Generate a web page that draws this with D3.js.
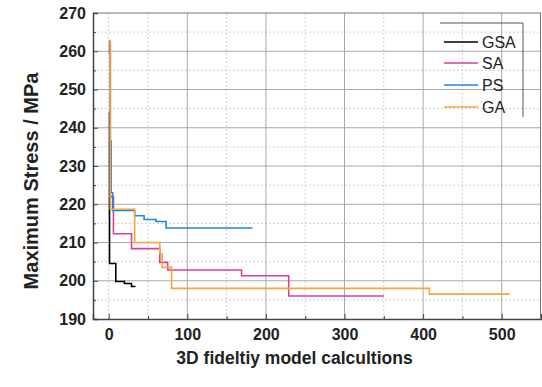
<!DOCTYPE html>
<html>
<head>
<meta charset="utf-8">
<script src="https://cdn.jsdelivr.net/npm/d3@7"></script>
<style>
  body { margin: 0; background: #fff; }
  svg { display: block; font-family: Arial, "Liberation Sans", sans-serif; }
</style>
</head>
<body>
<script>
// Chart size
var w = 542;
var h = 387;

// Series data (step functions: value changes at each x)
var seriesNames = ["GSA", "SA", "PS", "GA"];
var seriesColors = ["#000000", "#d9409e", "#1a86e6", "#f4a638"];

var gsaX = [0, 1, 9, 20, 29, 34];
var gsaY = [244, 204.5, 199.8, 199.3, 198.5, 198.5];

var saX = [0, 1, 2, 6, 29, 65, 75, 169, 229, 350];
var saY = [262, 259.5, 222, 212.3, 208.4, 204.8, 202.8, 201.3, 196, 196];

var psX = [0, 2, 3, 5, 33, 45, 60, 73, 183];
var psY = [262.5, 236.5, 223, 218.4, 217, 216, 215.5, 213.8, 213.8];

var gaX = [0, 2, 33, 65, 68, 80, 408, 510];
var gaY = [262.8, 218.7, 210, 207, 203.5, 198, 196.5, 196.5];

// Tick labels
var xTicks = [0, 100, 200, 300, 400, 500];
var xMinor = [50, 150, 250, 350, 450];
var yTicks = [190, 200, 210, 220, 230, 240, 250, 260, 270];
var yMinor = [195, 205, 215, 225, 235, 245, 255, 265];

var padLeft = 93, padRight = 541, padTop = 13, padBottom = 319;

var xScale = d3.scaleLinear().domain([-20, 550]).range([padLeft, padRight]);
var yScale = d3.scaleLinear().domain([190, 270]).range([padBottom, padTop]);

var svg = d3.select("body").append("svg")
    .attr("width", w)
    .attr("height", h);

// Minor grid (dotted)
svg.append("g")
    .selectAll("line")
    .data(xMinor.concat([0]))
    .enter().append("line")
    .attr("x1", function(d) { return xScale(d); })
    .attr("x2", function(d) { return xScale(d); })
    .attr("y1", padTop).attr("y2", padBottom)
    .attr("stroke", "#cfcfcf")
    .attr("stroke-dasharray", "2,2");

svg.append("g")
    .selectAll("line")
    .data(yMinor)
    .enter().append("line")
    .attr("x1", padLeft).attr("x2", padRight)
    .attr("y1", function(d) { return yScale(d); })
    .attr("y2", function(d) { return yScale(d); })
    .attr("stroke", "#cfcfcf")
    .attr("stroke-dasharray", "2,2");

// Major grid (solid)
svg.append("g")
    .selectAll("line")
    .data(xTicks.slice(1))
    .enter().append("line")
    .attr("x1", function(d) { return xScale(d); })
    .attr("x2", function(d) { return xScale(d); })
    .attr("y1", padTop).attr("y2", padBottom)
    .attr("stroke", "#a8a8a8");

svg.append("g")
    .selectAll("line")
    .data(yTicks.slice(1, -1))
    .enter().append("line")
    .attr("x1", padLeft).attr("x2", padRight)
    .attr("y1", function(d) { return yScale(d); })
    .attr("y2", function(d) { return yScale(d); })
    .attr("stroke", "#a8a8a8");

// Top and right frame
svg.append("line").attr("x1", padLeft).attr("x2", padRight).attr("y1", padTop).attr("y2", padTop)
    .attr("stroke", "#777");
svg.append("line").attr("x1", padRight - 0.5).attr("x2", padRight - 0.5).attr("y1", padTop).attr("y2", padBottom)
    .attr("stroke", "#777");

// Lines
var line = d3.line()
    .x(function(d) { return xScale(d[0]); })
    .y(function(d) { return yScale(d[1]); })
    .curve(d3.curveStepAfter);

var allX = [gsaX, saX, psX, gaX];
var allY = [gsaY, saY, psY, gaY];

allX.forEach(function(xs, i) {
    var pts = xs.map(function(x, j) { return [x, allY[i][j]]; });
    svg.append("path")
        .datum(pts)
        .attr("d", line)
        .attr("fill", "none")
        .attr("stroke", seriesColors[i])
        .attr("stroke-width", 1.6);
});

// Axes with inward ticks
var xAxis = d3.axisBottom(xScale).tickValues(xTicks).tickSize(-5).tickPadding(10);
var gx = svg.append("g")
    .attr("transform", "translate(0," + padBottom + ")")
    .call(xAxis);
svg.append("g")
    .attr("transform", "translate(0," + padBottom + ")")
    .call(d3.axisBottom(xScale).tickValues(xMinor).tickSize(-3).tickFormat(""))
    .select(".domain").remove();

var yAxis = d3.axisLeft(yScale).tickValues(yTicks).tickSize(-5).tickPadding(7);
var gy = svg.append("g")
    .attr("transform", "translate(" + padLeft + ",0)")
    .call(yAxis);
svg.append("g")
    .attr("transform", "translate(" + padLeft + ",0)")
    .call(d3.axisLeft(yScale).tickValues(yMinor).tickSize(-3).tickFormat(""))
    .select(".domain").remove();

svg.selectAll(".domain").attr("stroke", "#444").attr("stroke-width", 1.5);
svg.selectAll(".tick line").attr("stroke", "#444");
[gx, gy].forEach(function(g) {
    g.selectAll("text")
        .attr("font-family", "Arial, 'Liberation Sans', sans-serif")
        .attr("font-size", "16px")
        .attr("font-weight", "bold")
        .attr("fill", "#222");
});

// Axis titles
svg.append("text")
    .attr("x", (181 + 408) / 2)
    .attr("y", 364)
    .attr("text-anchor", "middle")
    .attr("font-size", "17.5px")
    .attr("font-weight", "bold")
    .attr("fill", "#222")
    .text("3D fideltiy model calcultions");

svg.append("text")
    .attr("transform", "translate(38,181) rotate(-90)")
    .attr("text-anchor", "middle")
    .attr("font-size", "20px")
    .attr("font-weight", "bold")
    .attr("fill", "#222")
    .text("Maximum Stress / MPa");

// Legend
var legend = svg.append("g");
legend.append("path")
    .attr("d", "M440,23H523V117")
    .attr("fill", "none")
    .attr("stroke", "#555");

var legendY = [42, 63, 85, 107];
seriesNames.forEach(function(name, i) {
    legend.append("line")
        .attr("x1", 444).attr("x2", 478)
        .attr("y1", legendY[i]).attr("y2", legendY[i])
        .attr("stroke", seriesColors[i])
        .attr("stroke-width", 1.6);
    legend.append("text")
        .attr("x", 482)
        .attr("y", legendY[i])
        .attr("dy", "0.36em")
        .attr("font-size", "16px")
        .attr("fill", "#222")
        .text(name);
});
</script>
</body>
</html>
